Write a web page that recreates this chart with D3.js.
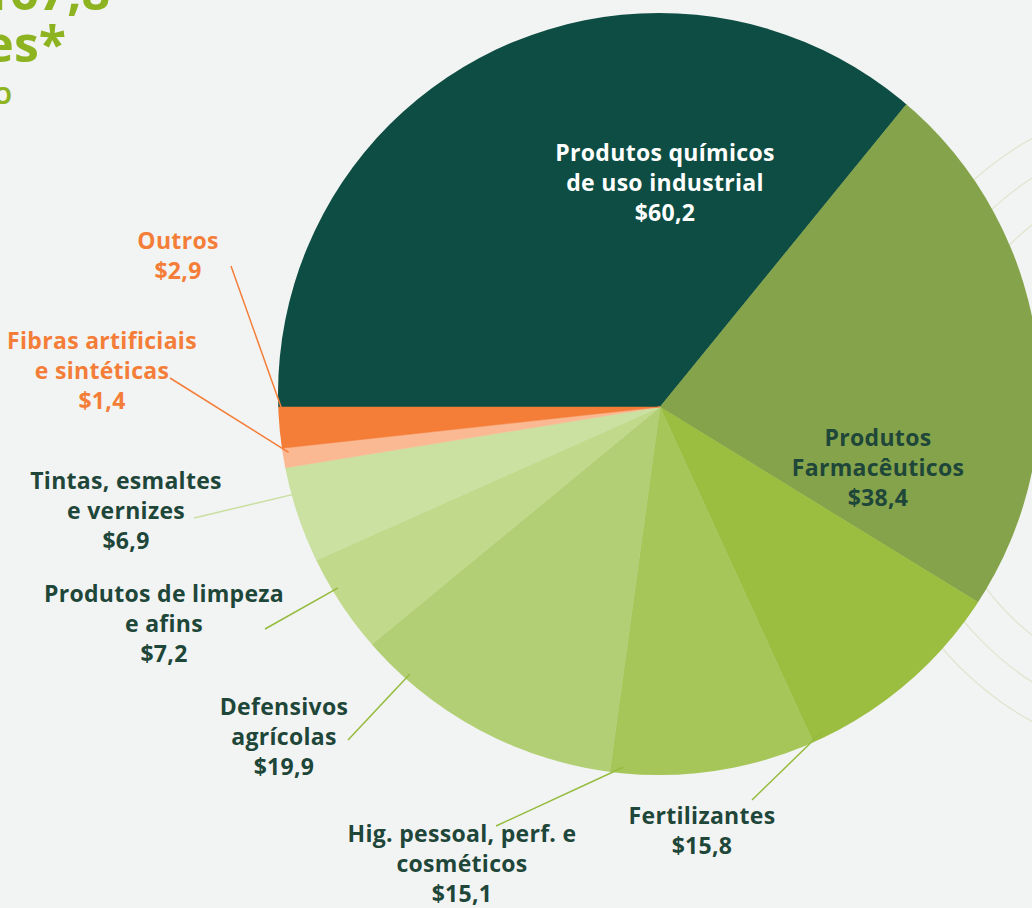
<!DOCTYPE html>
<html>
<head>
<meta charset="utf-8">
<script src="https://cdn.jsdelivr.net/npm/d3@7"></script>
<style>
  html, body { margin: 0; padding: 0; background: #f2f4f3; }
  svg { display: block; }
  text { font-family: "Open Sans", sans-serif; font-weight: 700; }
</style>
</head>
<body>
<svg width="1032" height="908"></svg>
<script>
// data (US$ bilhões)
const categories = [
  "Produtos químicos de uso industrial",
  "Produtos Farmacêuticos",
  "Fertilizantes",
  "Hig. pessoal, perf. e cosméticos",
  "Defensivos agrícolas",
  "Produtos de limpeza e afins",
  "Tintas, esmaltes e vernizes",
  "Fibras artificiais e sintéticas",
  "Outros"
];
const values = [60.2, 38.4, 15.8, 15.1, 19.9, 7.2, 6.9, 1.4, 2.9];
const labelLines = [
  ["Produtos químicos", "de uso industrial"],
  ["Produtos", "Farmacêuticos"],
  ["Fertilizantes"],
  ["Hig. pessoal, perf. e", "cosméticos"],
  ["Defensivos", "agrícolas"],
  ["Produtos de limpeza", "e afins"],
  ["Tintas, esmaltes", "e vernizes"],
  ["Fibras artificiais", "e sintéticas"],
  ["Outros"]
];
const colors = ["#0d4d43", "#84a34b", "#9bbd40", "#a6c65a", "#b3cf75", "#c1d98b", "#cae1a1", "#fbb993", "#f47d38"];

// layout
const apex = [660, 407];        // where the slices meet
const disc = { cx: 659, cy: 394, r: 381 };
const dark = "#1e4639", orange = "#f47d38", green = "#95bb3c";
const labelPos = [
  { x: 665, y: 161, fill: "#ffffff" },
  { x: 878, y: 446, fill: dark },
  { x: 702, y: 824, fill: dark, anchor: [752, 800], line: green },
  { x: 462, y: 842, fill: dark, anchor: [496, 826], line: green },
  { x: 284, y: 715, fill: dark, anchor: [348, 740], line: green },
  { x: 164, y: 602, fill: dark, anchor: [265, 629], line: green },
  { x: 126, y: 489, fill: dark, anchor: [194, 518], line: "#c8df9e" },
  { x: 102, y: 349, fill: orange, anchor: [170, 378], line: orange },
  { x: 178, y: 249, fill: orange, anchor: [231, 266], line: orange }
];
const lineH = 30;

const svg = d3.select("svg");
const fmt = (v) => "$" + d3.format(".1f")(v).replace(".", ",");

// decorative rings on the right
svg.append("g")
  .selectAll("circle")
  .data([334, 300, 262])
  .enter()
  .append("circle")
  .attr("cx", 1195)
  .attr("cy", 430)
  .attr("r", (d) => d)
  .attr("fill", "none")
  .attr("stroke", "#e1e5cf")
  .attr("stroke-width", 1.3);

// title fragment, cut by the left edge
svg.append("text")
  .attr("x", 110).attr("y", 10)
  .attr("text-anchor", "end")
  .attr("font-size", 50)
  .attr("fill", "#8db321")
  .text("$167,8");
svg.append("text")
  .attr("x", 66).attr("y", 62)
  .attr("text-anchor", "end")
  .attr("font-size", 50)
  .attr("fill", "#8db321")
  .text("bilhões*");
svg.append("text")
  .attr("x", 12).attr("y", 104)
  .attr("text-anchor", "end")
  .attr("font-size", 23)
  .attr("font-weight", 400)
  .attr("fill", "#8db321")
  .text("O");

svg.append("clipPath")
  .attr("id", "disc")
  .append("circle")
  .attr("cx", disc.cx)
  .attr("cy", disc.cy)
  .attr("r", disc.r);

const pie = d3.pie()
  .sort(null)
  .startAngle(-Math.PI / 2)
  .endAngle(1.5 * Math.PI);
const arcs = pie(values);

const arc = d3.arc().innerRadius(0).outerRadius(480);

svg.append("g")
  .attr("clip-path", "url(#disc)")
  .append("g")
  .attr("transform", `translate(${apex[0]},${apex[1]})`)
  .selectAll("path")
  .data(arcs)
  .enter()
  .append("path")
  .attr("d", arc)
  .attr("fill", (d, i) => colors[i])
  .attr("stroke", (d, i) => colors[i])
  .attr("stroke-width", 0.5);

// distance from apex to the disc edge along angle a (clockwise from top)
function edgeDist(a) {
  const dx = Math.sin(a), dy = -Math.cos(a);
  const wx = apex[0] - disc.cx, wy = apex[1] - disc.cy;
  const b = wx * dx + wy * dy;
  return -b + Math.sqrt(b * b - (wx * wx + wy * wy - disc.r * disc.r));
}

// leader lines: aim at the label anchor, kept inside the slice
const leaders = svg.append("g");
arcs.forEach((d, i) => {
  const p = labelPos[i];
  if (!p.anchor) return;
  const mid = (d.startAngle + d.endAngle) / 2;
  let a = Math.atan2(p.anchor[0] - apex[0], -(p.anchor[1] - apex[1]));
  let diff = a - mid;
  diff = Math.atan2(Math.sin(diff), Math.cos(diff));
  const m = Math.min(0.035, (d.endAngle - d.startAngle) / 4);
  a = Math.max(d.startAngle + m, Math.min(d.endAngle - m, mid + diff));
  const t = edgeDist(a) - 6;
  leaders.append("line")
    .attr("x1", p.anchor[0])
    .attr("y1", p.anchor[1])
    .attr("x2", apex[0] + t * Math.sin(a))
    .attr("y2", apex[1] - t * Math.cos(a))
    .attr("stroke", p.line)
    .attr("stroke-width", 1.5);
});

// labels
const labels = svg.append("g")
  .selectAll("text")
  .data(arcs)
  .enter()
  .append("text")
  .attr("text-anchor", "middle")
  .attr("font-size", 23)
  .attr("letter-spacing", 0.3)
  .attr("fill", (d, i) => labelPos[i].fill);

labels.each(function (d, i) {
  const t = d3.select(this);
  const lines = labelLines[i].concat([fmt(values[i])]);
  lines.forEach((s, k) => {
    t.append("tspan")
      .attr("x", labelPos[i].x)
      .attr("y", labelPos[i].y + k * lineH)
      .text(s);
  });
});
</script>
</body>
</html>
